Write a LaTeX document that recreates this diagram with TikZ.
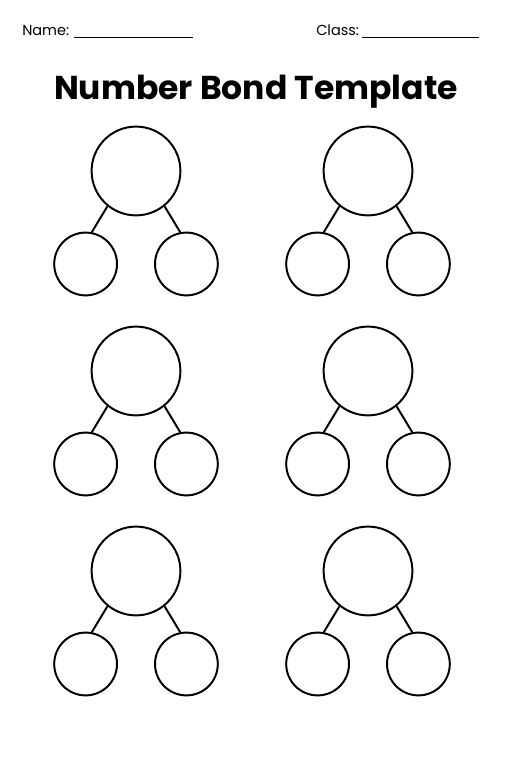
\documentclass[tikz,border=0pt]{standalone}
\usepackage{fontspec}
\setmainfont{Poppins}
\usetikzlibrary{positioning}

\tikzset{
  bigball/.style={circle,draw,line width=1.4pt,minimum size=2.22cm,inner sep=0pt},
  smallball/.style={circle,draw,line width=1.4pt,minimum size=1.57cm,inner sep=0pt},
  bond/.style={line width=1.4pt},
  blank/.style={inner sep=0pt,minimum height=0pt}
}

\begin{document}
\begin{tikzpicture}
\useasboundingbox (0,0) rectangle (12.8,19.2);

\node[anchor=base west,inner sep=0pt,font=\fontsize{10.3}{12}\selectfont] (name) at (0.55,18.3) {Name:};
\node[blank,anchor=base west,minimum width=2.95cm] (nameline) at (1.85,18.26) {};
\draw[line width=0.9pt] (nameline.west) -- (nameline.east);
\node[anchor=base west,inner sep=0pt,font=\fontsize{10.3}{12}\selectfont] (class) at (7.9,18.3) {Class:};
\node[blank,anchor=base west,minimum width=2.9cm] (classline) at (9.05,18.26) {};
\draw[line width=0.9pt] (classline.west) -- (classline.east);

\node[anchor=base,inner sep=0pt,font=\fontsize{23.5}{28}\selectfont\bfseries] (title) at (6.4,16.7) {Number Bond Template};

\node[bigball] (T1) at (3.4,14.925) {};
\node[smallball] (L1) at (2.14,12.6) {};
\node[smallball] (R1) at (4.66,12.6) {};
\draw[bond] (T1.231) -- (L1.79);
\draw[bond] (T1.309) -- (R1.101);

\node[bigball] (T2) at (9.2,14.925) {};
\node[smallball] (L2) at (7.94,12.6) {};
\node[smallball] (R2) at (10.46,12.6) {};
\draw[bond] (T2.231) -- (L2.79);
\draw[bond] (T2.309) -- (R2.101);

\node[bigball] (T3) at (3.4,9.925) {};
\node[smallball] (L3) at (2.14,7.6) {};
\node[smallball] (R3) at (4.66,7.6) {};
\draw[bond] (T3.231) -- (L3.79);
\draw[bond] (T3.309) -- (R3.101);

\node[bigball] (T4) at (9.2,9.925) {};
\node[smallball] (L4) at (7.94,7.6) {};
\node[smallball] (R4) at (10.46,7.6) {};
\draw[bond] (T4.231) -- (L4.79);
\draw[bond] (T4.309) -- (R4.101);

\node[bigball] (T5) at (3.4,4.925) {};
\node[smallball] (L5) at (2.14,2.6) {};
\node[smallball] (R5) at (4.66,2.6) {};
\draw[bond] (T5.231) -- (L5.79);
\draw[bond] (T5.309) -- (R5.101);

\node[bigball] (T6) at (9.2,4.925) {};
\node[smallball] (L6) at (7.94,2.6) {};
\node[smallball] (R6) at (10.46,2.6) {};
\draw[bond] (T6.231) -- (L6.79);
\draw[bond] (T6.309) -- (R6.101);
\end{tikzpicture}
\end{document}
